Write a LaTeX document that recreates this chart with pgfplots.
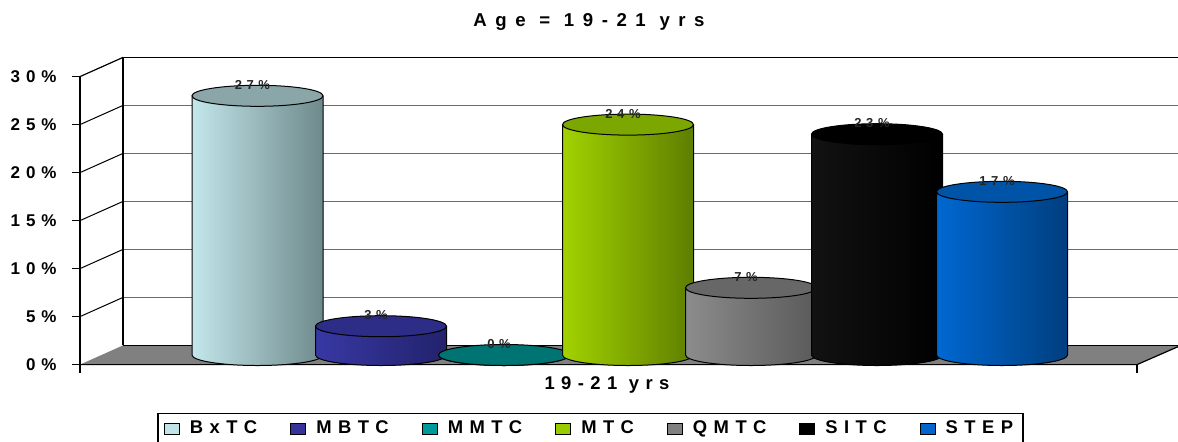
\documentclass[border=0pt]{standalone}
\usepackage{fontspec}
\setmainfont{Liberation Sans}
\newfontfamily\spaced{Liberation Sans}[LetterSpace=35]
\newfontfamily\widespaced{Liberation Sans}[LetterSpace=46]
\usepackage{pgfplots}
\pgfplotsset{compat=1.18}

% body (left/right shade) and top colours of the cylinders
\definecolor{bxL}{HTML}{C3E7EB}\definecolor{bxR}{HTML}{6E898B}\definecolor{bxT}{HTML}{8AA6A9}
\definecolor{mbL}{HTML}{3838A4}\definecolor{mbR}{HTML}{22226C}\definecolor{mbT}{HTML}{2D2D88}
\definecolor{mmL}{HTML}{008C8C}\definecolor{mmR}{HTML}{005A5A}\definecolor{mmT}{HTML}{007373}
\definecolor{mtL}{HTML}{A2D200}\definecolor{mtR}{HTML}{5E7E00}\definecolor{mtT}{HTML}{7CA600}
\definecolor{qmL}{HTML}{8C8C8C}\definecolor{qmR}{HTML}{5A5A5A}\definecolor{qmT}{HTML}{676767}
\definecolor{siL}{HTML}{121212}\definecolor{siR}{HTML}{000000}\definecolor{siT}{HTML}{000000}
\definecolor{stL}{HTML}{0068D2}\definecolor{stR}{HTML}{003E7E}\definecolor{stT}{HTML}{0054A8}
% legend swatches
\definecolor{legBx}{HTML}{C0E4E8}
\definecolor{legMb}{HTML}{333399}
\definecolor{legMm}{HTML}{009999}
\definecolor{legMt}{HTML}{99CC00}
\definecolor{legQm}{HTML}{808080}
\definecolor{legSi}{HTML}{000000}
\definecolor{legSt}{HTML}{0066CC}
% frame
\definecolor{floorgray}{HTML}{808080}
\definecolor{gridgray}{HTML}{6A6A6A}

% A cylinder mark: placed at the top centre of the bar, its body reaches
% down by the bar value (4.8pt per percent).
\newcommand\declarecylinder[4]{%
  \pgfdeclareplotmark{cyl#1}{%
    \pgfmathsetmacro\cylh{\cylval*4.8}%
    \path[left color=#2, right color=#3, draw=black, line width=0.5pt, line join=round]
      (-32.75pt,0pt) -- (-32.75pt,-\cylh pt)
      arc[start angle=180, end angle=360, x radius=32.75pt, y radius=5.25pt]
      -- (32.75pt,0pt) -- cycle;
    \path[fill=#4, draw=black, line width=0.5pt]
      (0pt,0pt) ellipse[x radius=32.75pt, y radius=5.25pt];
  }}
\declarecylinder{BxTC}{bxL}{bxR}{bxT}
\declarecylinder{MBTC}{mbL}{mbR}{mbT}
\declarecylinder{MMTC}{mmL}{mmR}{mmT}
\declarecylinder{MTC}{mtL}{mtR}{mtT}
\declarecylinder{QMTC}{qmL}{qmR}{qmT}
\declarecylinder{SITC}{siL}{siR}{siT}
\declarecylinder{STEP}{stL}{stR}{stT}

\newcommand\tickfont{\spaced\bfseries\fontsize{8.5}{9}\selectfont}
\newcommand\labfont{\spaced\bfseries\fontsize{9.2}{10}\selectfont}
\newcommand\titlefont{\widespaced\bfseries\fontsize{9.3}{10}\selectfont}

\begin{document}
\begin{tikzpicture}
\begin{axis}[
  x=0.5pt, y=4.8pt,
  xmin=0, xmax=1178, ymin=-8.958333, ymax=36.979167,
  axis lines=none, clip=false,
  cyl/.style={only marks, mark=cyl#1, forget plot,
    visualization depends on={rawy \as \cylval},
    point meta=explicit symbolic,
    nodes near coords={\pgfplotspointmeta\%},
    every node near coord/.style={anchor=center, yshift=5.5pt, xshift=-2.5pt,
      font=\spaced\bfseries\fontsize{6.5}{7}\selectfont, text=black!85}},
  legsq/.style={legend image code/.code={%
    \draw[fill=#1, draw=black, line width=0.5pt] (0pt,-2.75pt) rectangle (7.5pt,2.75pt);}},
  legend style={at={(axis cs:590.5,-6.04)}, anchor=north, legend columns=7,
    draw=black, line width=0.6pt, inner xsep=3pt, inner ysep=1.5pt,
    font=\labfont,
    /tikz/every odd column/.append style={column sep=3pt},
    /tikz/every even column/.append style={column sep=14.5pt}},
  legend cell align=left,
]
% floor
\fill[floorgray] (axis cs:80,-1) -- (axis cs:123,1) -- (axis cs:1182,1) -- (axis cs:1137,-1) -- cycle;
\draw[black, line width=0.5pt] (axis cs:123,1) -- (axis cs:1182,1);
\draw[black, line width=0.6pt] (axis cs:80,-1) -- (axis cs:1137,-1) -- (axis cs:1182,1.05);
\draw[black, line width=0.6pt] (axis cs:1137,-1) -- (axis cs:1137,-1.85);
% back wall grid lines
\pgfplotsinvokeforeach{6,11,16,21,26}{
  \draw[gridgray, line width=0.5pt] (axis cs:123,#1) -- (axis cs:1182,#1);
}
\draw[black, line width=0.6pt] (axis cs:123,31) -- (axis cs:1182,31);
\draw[black, line width=0.6pt] (axis cs:123,1) -- (axis cs:123,31);
% side wall lines
\draw[black, line width=0.5pt] (axis cs:80,4) -- (axis cs:123,6);
\draw[black, line width=0.5pt] (axis cs:80,9) -- (axis cs:123,11);
\draw[black, line width=0.5pt] (axis cs:80,14) -- (axis cs:123,16);
\draw[black, line width=0.5pt] (axis cs:80,19) -- (axis cs:123,21);
\draw[black, line width=0.5pt] (axis cs:80,24) -- (axis cs:123,26);
\draw[black, line width=0.6pt] (axis cs:80,29) -- (axis cs:123,31);
% front value axis with ticks and labels
\draw[black, line width=0.6pt] (axis cs:80,-1.85) -- (axis cs:80,29);
\pgfplotsinvokeforeach{-1,4,9,14,19,24,29}{
  \draw[black, line width=0.6pt] (axis cs:72,#1) -- (axis cs:80,#1);
}
\node[anchor=east, font=\tickfont, inner sep=0pt] at (axis cs:57,-1) {0\%};
\node[anchor=east, font=\tickfont, inner sep=0pt] at (axis cs:57,4) {5\%};
\node[anchor=east, font=\tickfont, inner sep=0pt] at (axis cs:57,9) {10\%};
\node[anchor=east, font=\tickfont, inner sep=0pt] at (axis cs:57,14) {15\%};
\node[anchor=east, font=\tickfont, inner sep=0pt] at (axis cs:57,19) {20\%};
\node[anchor=east, font=\tickfont, inner sep=0pt] at (axis cs:57,24) {25\%};
\node[anchor=east, font=\tickfont, inner sep=0pt] at (axis cs:57,29) {30\%};

% cylinders, one series each
\addplot[cyl=BxTC] coordinates {(257.5,27) [27]};
\addplot[cyl=MBTC] coordinates {(381,3) [3]};
\addplot[cyl=MMTC] coordinates {(504,0) [0]};
\addplot[cyl=MTC]  coordinates {(628,24) [24]};
\addplot[cyl=QMTC] coordinates {(751,7) [7]};
\addplot[cyl=SITC] coordinates {(877,23) [23]};
\addplot[cyl=STEP] coordinates {(1002,17) [17]};

\addlegendimage{legsq=legBx}\addlegendentry{BxTC}
\addlegendimage{legsq=legMb}\addlegendentry{MBTC}
\addlegendimage{legsq=legMm}\addlegendentry{MMTC}
\addlegendimage{legsq=legMt}\addlegendentry{MTC}
\addlegendimage{legsq=legQm}\addlegendentry{QMTC}
\addlegendimage{legsq=legSi}\addlegendentry{SITC}
\addlegendimage{legsq=legSt}\addlegendentry{STEP}

\node[font=\titlefont] at (axis cs:589,34.7) {Age = 19-21 yrs};
\node[font=\labfont] at (axis cs:607,-3.1) {19-21 yrs};
\end{axis}
\pgfresetboundingbox
\path (0,0) rectangle (589pt,220.5pt);
\end{tikzpicture}
\end{document}
